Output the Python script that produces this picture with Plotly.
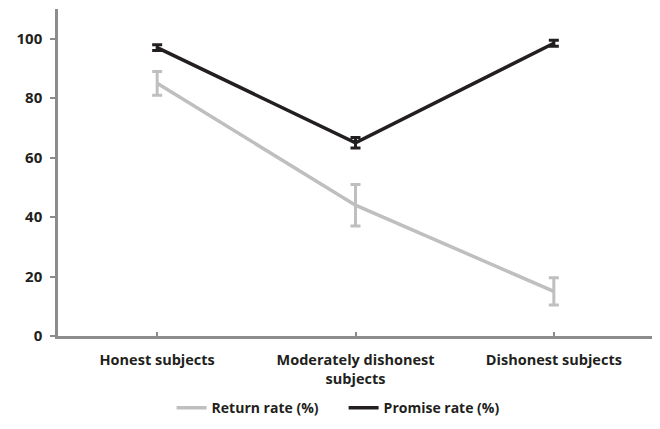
import plotly.graph_objects as go

categories = ["Honest subjects", "Moderately dishonest<br>subjects", "Dishonest subjects"]
return_rate = [85, 44, 15]
return_err = [4, 7, 4.6]
promise_rate = [97, 65, 98.5]
promise_err = [1, 1.8, 1]

xpos = [0, 1, 2]

fig = go.Figure()
fig.add_trace(go.Scatter(
    x=xpos, y=return_rate, mode="lines", name="Return rate (%)",
    line=dict(color="#bfbfbf", width=3.5),
    error_y=dict(type="data", array=return_err, color="#bfbfbf", thickness=3, width=5),
))
fig.add_trace(go.Scatter(
    x=xpos, y=promise_rate, mode="lines", name="Promise rate (%)",
    line=dict(color="#231f20", width=3.5),
    error_y=dict(type="data", array=promise_err, color="#231f20", thickness=3, width=5),
))

font_family = "Open Sans"
# page body has an 8px default margin, so the figure is sized to fit
fig.update_layout(
    width=652, height=421,
    margin=dict(l=50, r=7, t=1, b=93),
    plot_bgcolor="white", paper_bgcolor="white",
    font=dict(family=font_family, color="#231f20", size=14),
    showlegend=True,
    legend=dict(orientation="h", x=0.48, xanchor="center", y=-0.172, yanchor="top",
                font=dict(family=font_family, size=14, color="#231f20", weight="bold"),
                entrywidth=127, entrywidthmode="pixels",
                traceorder="normal"),
    xaxis=dict(
        range=[-0.5, 2.5], tickvals=xpos + [2.5], ticktext=categories + [""],
        showline=True, linecolor="#8c8c8c", linewidth=2.5,
        ticks="inside", ticklen=4, tickcolor="#8c8c8c", tickwidth=2,
        showgrid=False, zeroline=False, automargin=False,
        ticklabelstandoff=9,
        tickfont=dict(family=font_family, size=14.5, color="#231f20", weight="bold"),
    ),
    yaxis=dict(
        range=[0, 110], tickvals=[0, 20, 40, 60, 80, 100],
        showline=True, linecolor="#8c8c8c", linewidth=2.5,
        ticks="outside", ticklen=5, tickcolor="#8c8c8c", tickwidth=2,
        showgrid=False, zeroline=False, automargin=False,
        ticklabelstandoff=5,
        tickfont=dict(family=font_family, size=15, color="#231f20", weight="bold"),
    ),
)
fig.write_html("out.html")
